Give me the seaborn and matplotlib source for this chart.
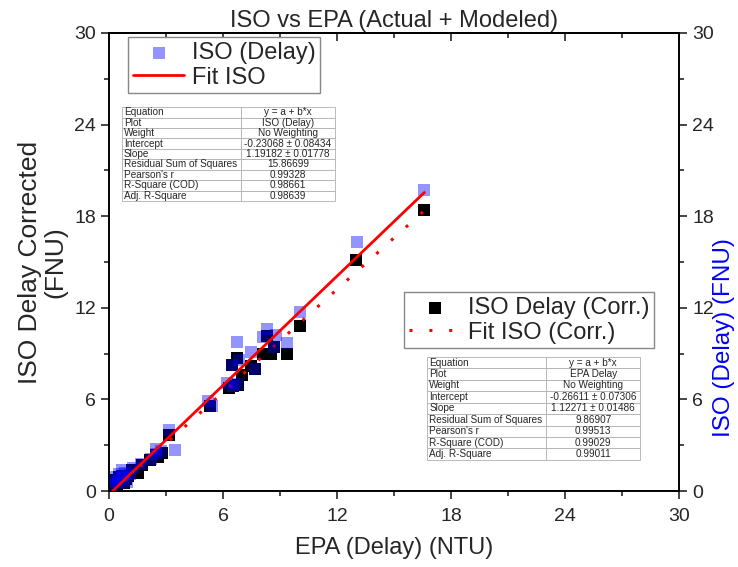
import numpy as np
import pandas as pd
import matplotlib.pyplot as plt
from matplotlib.ticker import MultipleLocator
import seaborn as sns

# EPA delay (x) and ISO delay (y) - raw series, right axis
epa_iso = [0.15, 0.25, 0.35, 0.45, 0.55, 0.67, 0.75, 0.85, 0.95, 1.1, 1.25, 1.7,
           2.2, 2.45, 2.75, 2.5, 3.16, 3.47, 5.23, 5.4, 6.2, 6.55, 6.75, 6.45,
           6.85, 6.75, 7.45, 7.7, 8.1, 8.3, 8.8, 8.7, 9.35, 10.05, 13.05, 16.6]
iso_delay = [0.3, 0.6, 0.9, 0.5, 1.1, 1.37, 0.8, 1.2, 0.6, 1.1, 1.5, 1.8,
             2.1, 2.4, 2.6, 2.75, 4.0, 2.7, 5.9, 5.6, 7.1, 6.9, 7.0, 8.25,
             8.6, 9.74, 9.1, 8.0, 10.1, 10.6, 10.2, 9.45, 9.7, 11.7, 16.3, 19.7]

# EPA delay (x) and corrected ISO delay (y) - left axis
epa_corr = [0.1, 0.2, 0.3, 0.4, 0.5, 0.6, 0.7, 0.8, 0.9, 1.0, 1.2, 1.55, 1.75,
            2.15, 2.45, 2.8, 2.6, 3.16, 5.3, 6.3, 6.55, 6.8, 7.0, 7.5, 7.7,
            6.45, 6.75, 8.1, 8.55, 8.7, 9.35, 8.3, 10.05, 13.0, 16.6]
iso_corr = [0.1, 0.4, 0.7, 0.3, 0.9, 0.6, 1.0, 0.5, 0.8, 1.0, 1.4, 1.16, 1.7,
            2.0, 2.35, 2.5, 2.2, 3.67, 5.57, 6.75, 6.9, 6.95, 7.6, 8.2, 8.0,
            8.25, 8.7, 9.0, 9.0, 9.45, 9.0, 10.15, 10.8, 15.1, 18.4]

# linear fit results (from the stats tables)
fit_iso = (-0.23068, 1.19182)
fit_corr = (-0.26611, 1.12271)

row_names = ["Equation", "Plot", "Weight", "Intercept", "Slope",
             "Residual Sum of Squares", "Pearson's r", "R-Square (COD)", "Adj. R-Square"]
table_iso = ["y = a + b*x", "ISO (Delay)", "No Weighting", "-0.23068 \u00b1 0.08434",
             "1.19182 \u00b1 0.01778", "15.86699", "0.99328", "0.98661", "0.98639"]
table_corr = ["y = a + b*x", "EPA Delay", "No Weighting", "-0.26611 \u00b1 0.07306",
              "1.12271 \u00b1 0.01486", "9.86907", "0.99513", "0.99029", "0.99011"]

sns.set_theme(style="ticks")
plt.rcParams['font.family'] = ['Liberation Sans', 'DejaVu Sans']

fig = plt.figure(figsize=(7.38, 5.67), dpi=100)
ax = fig.add_axes([0.1477, 0.134, 0.7723, 0.808])
ax2 = ax.twinx()

# corrected series on the left axis
sns.scatterplot(x=epa_corr, y=iso_corr, marker='s', s=85, color='black',
                linewidth=0, ax=ax, label='ISO Delay (Corr.)', zorder=2)
xc = np.linspace(min(epa_corr), max(epa_corr), 50)
sns.lineplot(x=xc, y=fit_corr[0] + fit_corr[1] * xc, color='red', lw=2.2,
             linestyle=(0, (1, 5.5)), ax=ax, label='Fit ISO (Corr.)', zorder=3)

# raw ISO series on the right axis
sns.scatterplot(x=epa_iso, y=iso_delay, marker='s', s=85, color='blue', alpha=0.42,
                linewidth=0, ax=ax2, label='ISO (Delay)', zorder=2)
xi = np.linspace(min(epa_iso), max(epa_iso), 50)
sns.lineplot(x=xi, y=fit_iso[0] + fit_iso[1] * xi, color='red', lw=2,
             ax=ax2, label='Fit ISO', zorder=3)

for a in (ax, ax2):
    a.set_xlim(0, 30)
    a.set_ylim(0, 30)
    a.yaxis.set_major_locator(MultipleLocator(6))
    a.yaxis.set_minor_locator(MultipleLocator(3))
    a.tick_params(axis='y', which='major', direction='out', length=6, width=1.2, labelsize=14)
    a.tick_params(axis='y', which='minor', direction='out', length=3.5, width=1.2)
    for sp in a.spines.values():
        sp.set_linewidth(1.2)
        sp.set_color('black')

ax.xaxis.set_major_locator(MultipleLocator(6))
ax.xaxis.set_minor_locator(MultipleLocator(3))
ax.tick_params(axis='x', which='major', direction='out', length=6, width=1.2,
               labelsize=14, pad=6)
ax.tick_params(axis='x', which='minor', direction='out', length=3.5, width=1.2)

top = ax.secondary_xaxis('top')
top.xaxis.set_major_locator(MultipleLocator(6))
top.xaxis.set_minor_locator(MultipleLocator(3))
top.tick_params(axis='x', which='major', direction='in', length=6, width=1.2, labeltop=False)
top.tick_params(axis='x', which='minor', direction='in', length=3.5, width=1.2)

ax.set_xlabel('EPA (Delay) (NTU)', fontsize=17, labelpad=9)
ax.set_ylabel('ISO Delay Corrected\n(FNU)', fontsize=19, labelpad=5, linespacing=1.05)
fig.text(724 / 738, 1 - 338 / 567, 'ISO (Delay) (FNU)', fontsize=17.5, color='blue',
         rotation=90, ha='center', va='center')
ax.set_title('ISO vs EPA (Actual + Modeled)', fontsize=17, pad=4)

leg_kw = dict(fontsize=17, frameon=True, fancybox=False, edgecolor='#888888',
              framealpha=1, borderaxespad=0, handlelength=2.2, handletextpad=0.3,
              labelspacing=0.12, borderpad=0.2)
h1, l1 = ax2.get_legend_handles_labels()
ax2.legend(h1, l1, loc='upper left', bbox_to_anchor=(0.033, 0.991), **leg_kw)
h2, l2 = ax.get_legend_handles_labels()
ax.legend(h2, l2, loc='upper left', bbox_to_anchor=(0.518, 0.434), **leg_kw)


def stats_table(axis, values, bbox):
    cells = [[n, v] for n, v in zip(row_names, values)]
    tb = axis.table(cellText=cells, bbox=bbox, colWidths=[0.56, 0.44])
    tb.auto_set_font_size(False)
    tb.set_fontsize(7.2)
    for (r, c), cell in tb.get_celld().items():
        cell.set_edgecolor('#b0b0b0')
        cell.set_linewidth(0.6)
        cell.set_facecolor('white')
        cell.get_text().set_ha('left' if c == 0 else 'center')
        if c == 0:
            cell.PAD = 0.02
    tb.set_zorder(5)
    return tb


stats_table(ax2, table_iso, [0.022, 0.633, 0.374, 0.205])
stats_table(ax, table_corr, [0.558, 0.068, 0.374, 0.225])

fig.savefig('out.png', dpi=100)
